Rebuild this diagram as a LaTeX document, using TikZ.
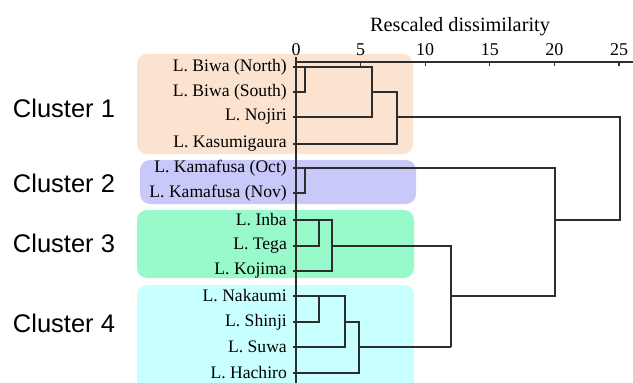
\documentclass[tikz,border=0pt]{standalone}
\usepackage{fontspec}
\setmainfont{Liberation Serif}
\setsansfont{Liberation Sans}
\definecolor{peach}{RGB}{251,227,208}
\definecolor{lavender}{RGB}{200,200,249}
\definecolor{mint}{RGB}{152,250,202}
\definecolor{aqua}{RGB}{200,255,255}
\definecolor{treegray}{RGB}{45,45,45}

\begin{document}
\begin{tikzpicture}[x=1pt,y=-1pt,
    leaf/.style={anchor=east,inner sep=0pt,font=\fontsize{17.6}{17.6}\selectfont},
    cluster/.style={font=\sffamily\fontsize{25.5}{25.5}\selectfont},
    box/.style={rounded corners=10pt},
    tree/.style={line width=1.1pt,draw=treegray}]
            \useasboundingbox (0,0) rectangle (633,383);
            \clip (0,0) rectangle (633,383);

            % cluster backgrounds
            \fill[peach,box] (137,54) rectangle (413,154);
            \fill[lavender,box] (140,160) rectangle (416,204);
            \fill[mint,box] (137,210) rectangle (414,278);
            \fill[aqua,box] (137,285) rectangle (414,398);

            \node[cluster] (c1) at (64,108) {Cluster 1};
            \node[cluster] (c2) at (64,183) {Cluster 2};
            \node[cluster] (c3) at (64,243) {Cluster 3};
            \node[cluster] (c4) at (64,323) {Cluster 4};

            % axis
            \node[font=\fontsize{20.3}{20.3}\selectfont,anchor=base] (title) at (460,31) {Rescaled dissimilarity};
            \draw[tree] (296,62) -- (633,62);
            \foreach \v in {0,5,...,25} {
                \draw[tree] (296+12.92*\v,62) -- ++(0,4);
                \node[font=\fontsize{18}{18}\selectfont,anchor=base,inner sep=0pt] (t\v) at (296+12.92*\v,55) {\v};
            }
            \draw[tree] (296,57) -- (296,383);

            % leaves
            \foreach \name/\y/\txt in {bN/67/{L. Biwa (North)}, bS/92/{L. Biwa (South)}, nj/117/{L. Nojiri},
                ks/144/{L. Kasumigaura}, kO/168/{L. Kamafusa (Oct)}, kN/193/{L. Kamafusa (Nov)},
                ib/220/{L. Inba}, tg/246/{L. Tega}, kj/271/{L. Kojima}, nk/296/{L. Nakaumi},
                sj/322/{L. Shinji}, sw/347/{L. Suwa}, hc/373/{L. Hachiro}} {
                \coordinate (\name) at (293,\y);
                \node[leaf] (\name-l) at (287,\y) {\txt};
            }

            % merge heights
            \coordinate (m1) at (305,62);
            \coordinate (m2) at (372,62);
            \coordinate (m3) at (397,62);
            \coordinate (m4) at (620,62);
            \coordinate (m5) at (555,62);
            \coordinate (m6) at (319,62);
            \coordinate (m7) at (332,62);
            \coordinate (m8) at (451,62);
            \coordinate (m9) at (345,62);
            \coordinate (m10) at (359,62);

            % cluster 1
            \draw[tree] (bS) -| (m1 |- bN);
            \draw[tree] (bN) -| (m2 |- nj) -- (nj);
            \draw[tree] (m2 |- bS) -| (m3 |- ks) -- (ks);
            \draw[tree] (m3 |- nj) -| (m4 |- ib) -- (m5 |- ib);
            % cluster 2
            \draw[tree] (kN) -| (m1 |- kO);
            \draw[tree] (kO) -| (m5 |- nk) -- (m8 |- nk);
            % cluster 3
            \draw[tree] (tg) -| (m6 |- ib);
            \draw[tree] (ib) -| (m7 |- kj) -- (kj);
            \draw[tree] (m7 |- tg) -| (m8 |- sw);
            % cluster 4
            \draw[tree] (sj) -| (m6 |- nk);
            \draw[tree] (nk) -| (m9 |- sw) -- (sw);
            \draw[tree] (m9 |- sj) -| (m10 |- hc) -- (hc);
            \draw[tree] (m10 |- sw) -- (m8 |- sw);

        \end{tikzpicture}
\end{document}
